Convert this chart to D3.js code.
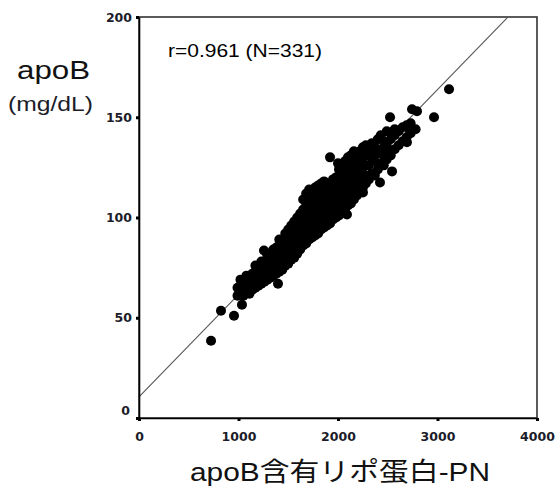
<!DOCTYPE html>
<html><head><meta charset="utf-8">
<script src="https://cdn.jsdelivr.net/npm/d3@7"></script>
<style>body{margin:0;background:#fff}svg{display:block}</style></head>
<body><svg id="c" width="556" height="490"></svg>
<script>
const xTicks = [0, 1000, 2000, 3000, 4000];
const yTicks = [0, 50, 100, 150, 200];
const xTitle = "apoB含有リポ蛋白-PN";
const yTitle = "apoB";
const yUnit = "(mg/dL)";
const statText = "r=0.961 (N=331)";
const fitX = [0, 3700];
const fitIntercept = 10.5;
const fitSlope = 0.0511;

// isolated points
const outliers = [[724,38.5],[824,53.5],[955,51],[1035,56.5],[1256,83.5],[1397,67],[2090,101.5],[2251,112.5],
  [2422,117.5],[1920,130],[2000,127],[2523,150],[2744,154],[2794,153],[2965,150],[3116,164],[2543,123],
  [2492,132.5],[2693,137.5],[2724,143]];

// dense cloud: each row is [PN, apoB values...]
const cloudRows = [
 [990,61,65],[1020,62,66,69],[1050,61,64,68],[1080,63,67,71],[1110,62,66,70],[1140,64,68,72],
 [1170,65,69,73,76],[1200,66,70,74],[1230,67,71,75,78],[1260,68,72,76],[1290,69,73,77,81],
 [1320,70,74,78,82],[1350,71,75,79,84],[1380,72,76,80,85],[1410,73,77,81,86,89],[1440,74,79,83,87],
 [1470,76,80,84,88,92],[1500,77,81,86,90,94],[1530,79,83,87,91,96],[1560,80,85,89,93,98],
 [1590,82,86,90,95,100],[1620,84,88,92,97,102],[1650,86,90,94,99,104,109],[1680,87,91,96,101,106,112],
 [1710,89,93,98,103,108,114],[1740,90,94,99,104,109,113],[1770,91,96,100,105,110,115],
 [1800,92,97,102,107,112,116],[1830,94,98,103,108,113,117],[1860,95,99,104,109,114,118],
 [1890,96,101,106,111,115],[1920,97,102,107,112,117],[1950,99,104,109,114,119],[1980,100,105,110,115,120],
 [2010,101,106,111,116,121,124],[2040,103,108,113,118,123],[2070,104,109,114,119,124,128],
 [2100,106,111,116,121,126,130],[2130,107,112,117,122,127,131],[2160,109,114,119,124,129,133],
 [2190,111,116,121,126,131],[2220,113,118,123,128,133],[2250,115,120,125,130,135],[2280,117,121,126,131,136],
 [2310,119,126,133],[2340,122,130,137],[2370,121,128,135],[2400,124,132,139],[2430,127,134,141],
 [2460,126,131,138],[2490,129,136,143],[2530,131,139],[2570,134,141,144],[2610,136,143],[2650,138,145],
 [2690,140,146],[2730,142,147],[2780,144]
];

const points = outliers.concat(cloudRows.flatMap(r => r.slice(1).map(v => [r[0], v])));

const svg = d3.select("#c");
const x = d3.scaleLinear().domain([0, 4000]).range([139, 537]);
const y = d3.scaleLinear().domain([0, 200]).range([418, 17]);

// regression line (under the points)
svg.append("line")
  .attr("x1", x(fitX[0])).attr("y1", y(fitIntercept + fitSlope * fitX[0]))
  .attr("x2", x(fitX[1])).attr("y2", y(fitIntercept + fitSlope * fitX[1]))
  .attr("stroke", "#555").attr("stroke-width", 1.1);

// points
svg.append("g").selectAll("circle").data(points).join("circle")
  .attr("cx", d => x(d[0])).attr("cy", d => y(d[1])).attr("r", 5).attr("fill", "#000");

// frame
svg.append("rect").attr("x", 139).attr("y", 17).attr("width", 398).attr("height", 401)
  .attr("fill", "none").attr("stroke", "#333").attr("stroke-width", 1.6);

const tickFont = "'DejaVu Sans', sans-serif";
const gx = svg.append("g").attr("transform", "translate(0,418)")
  .call(d3.axisBottom(x).tickValues(xTicks).tickSize(3).tickSizeOuter(0).tickPadding(11).tickFormat(d3.format("d")));
const gy = svg.append("g").attr("transform", "translate(139,0)")
  .call(d3.axisLeft(y).tickValues(yTicks).tickSize(3).tickSizeOuter(0).tickPadding(4).tickFormat(d3.format("d")));
[gx, gy].forEach(g => {
  g.select(".domain").attr("stroke", "#000").attr("stroke-width", 1.6);
  g.selectAll(".tick line").attr("stroke", "#000").attr("stroke-width", 3);
  g.selectAll(".tick text").attr("fill", "#1c1c2a").attr("font-family", tickFont)
    .attr("font-weight", "bold").attr("font-size", 12.5);
});
gy.selectAll(".tick text").filter(d => d === 0).attr("dy", "-0.3em").attr("x", -9);

const lab = "'Liberation Sans', 'Noto Sans CJK JP', sans-serif";
svg.append("text").attr("x", 168).attr("y", 57).attr("font-family", lab).attr("font-size", 18)
  .attr("textLength", 154).attr("lengthAdjust", "spacingAndGlyphs").attr("fill", "#000").text(statText);
svg.append("text").attr("x", 17).attr("y", 79).attr("font-family", lab).attr("font-size", 26)
  .attr("textLength", 73).attr("lengthAdjust", "spacingAndGlyphs").attr("fill", "#111").text(yTitle);
svg.append("text").attr("x", 8).attr("y", 111).attr("font-family", lab).attr("font-size", 20)
  .attr("textLength", 85).attr("lengthAdjust", "spacingAndGlyphs").attr("fill", "#1c1c2a").text(yUnit);
svg.append("text").attr("x", 190).attr("y", 481).attr("font-family", lab).attr("font-size", 26)
  .attr("textLength", 300).attr("lengthAdjust", "spacingAndGlyphs").attr("fill", "#111").text(xTitle);
</script></body></html>
